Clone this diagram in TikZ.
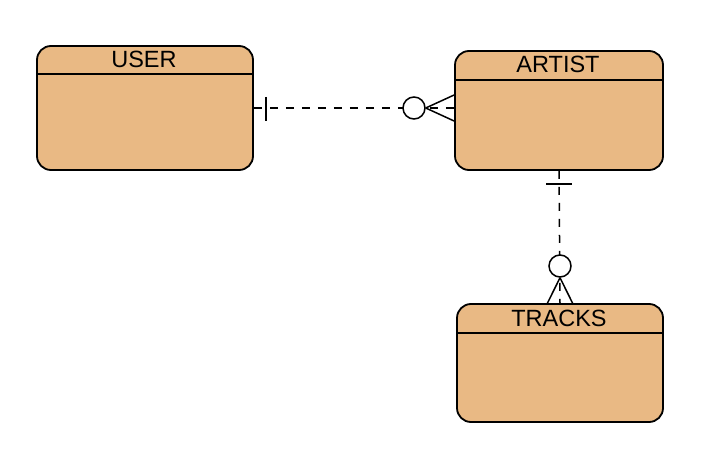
\documentclass[tikz,border=0pt]{standalone}
\usepackage{fontspec}
\setmainfont{Liberation Sans}
\definecolor{entfill}{RGB}{233,185,132}
\begin{document}
\begin{tikzpicture}[x=1pt,y=-1pt,
  entity/.style={draw=black, line width=1.8pt, fill=entfill, rounded corners=14pt, inner sep=0pt},
  hdr/.style={font=\fontsize{23.5}{23.5}\selectfont, anchor=base},
  conn/.style={line width=1.5pt, dash pattern=on 8pt off 8pt},
  tickline/.style={line width=1.5pt},
  ring/.style={circle, draw=black, line width=1.5pt, fill=white, minimum size=22pt, inner sep=0pt}]
\useasboundingbox (0,0) rectangle (708,462);
% entities
\node[entity, minimum width=216pt, minimum height=124pt] (user) at (145,108) {};
\node[entity, minimum width=208pt, minimum height=119pt] (artist) at (559,110.5) {};
\node[entity, minimum width=206pt, minimum height=118pt] (tracks) at (560,363) {};
% header lines
\draw[line width=1.5pt] (user.west |- 0,74) -- (user.east |- 0,74);
\draw[line width=1.5pt] (artist.west |- 0,80) -- (artist.east |- 0,80);
\draw[line width=1.5pt] (tracks.west |- 0,333) -- (tracks.east |- 0,333);
% titles
\node[hdr] (tuser) at (144,68) {USER};
\node[hdr] (tartist) at (558,73) {ARTIST};
\node[hdr] (ttracks) at (559,326) {TRACKS};
% connector USER - ARTIST
\coordinate (u1) at (user.east |- 0,108);
\coordinate (a1) at (artist.west |- 0,108);
\draw[conn] (u1) -- (a1);
\draw[tickline] (266,97) -- (266,121);
\node[ring] (r1) at (414,108) {};
\draw[tickline] (r1.east) -- (a1 |- 0,95);
\draw[tickline] (r1.east) -- (a1 |- 0,121);
% connector ARTIST - TRACKS
\coordinate (a2) at (artist.south);
\coordinate (t2) at (560,304);
\draw[conn] (a2) -- (t2);
\draw[tickline] (546,184) -- (572,184);
\node[ring] (r2) at (560,266) {};
\draw[tickline] (r2.south) -- (547,304);
\draw[tickline] (r2.south) -- (573,304);
\end{tikzpicture}
\end{document}
